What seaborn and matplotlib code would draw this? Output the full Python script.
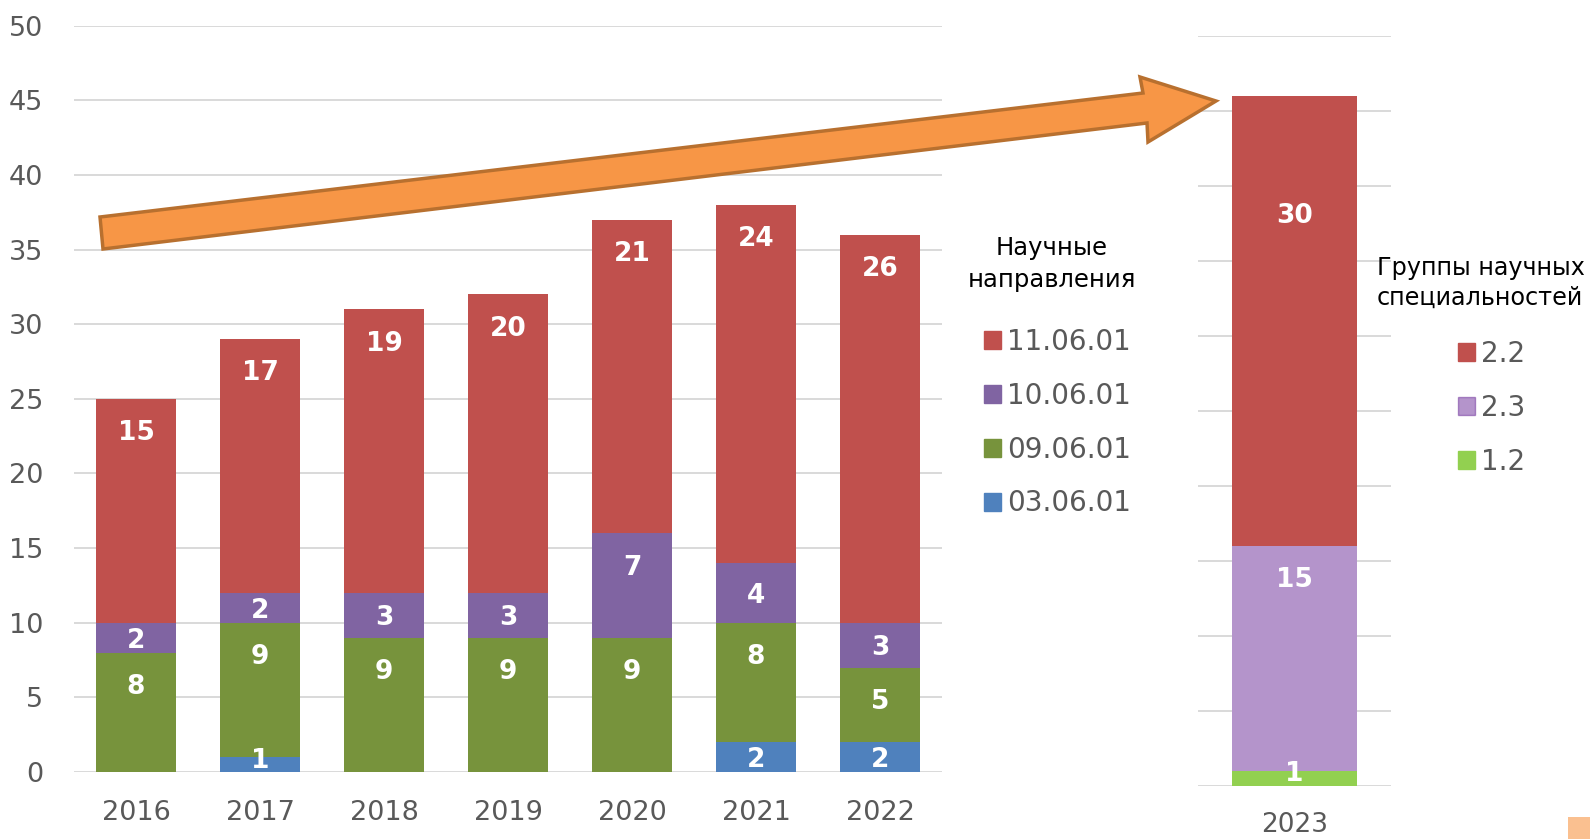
import numpy as np
import pandas as pd
import matplotlib
matplotlib.use("Agg")
import matplotlib.pyplot as plt
from matplotlib.patches import Patch, Polygon, Rectangle
import seaborn as sns

# ==============================
# Data
# ==============================
years = ["2016", "2017", "2018", "2019", "2020", "2021", "2022"]
s_030601 = [0, 1, 0, 0, 0, 2, 2]
s_090601 = [8, 9, 9, 9, 9, 8, 5]
s_100601 = [2, 2, 3, 3, 7, 4, 3]
s_110601 = [15, 17, 19, 20, 21, 24, 26]
left_names = ["11.06.01", "10.06.01", "09.06.01", "03.06.01"]

year_2023 = ["2023"]
g_12 = [1]
g_23 = [15]
g_22 = [30]
right_names = ["2.2", "2.3", "1.2"]

# colours
RED, PURPLE, GREEN, BLUE = "#C0504D", "#8064A2", "#77933C", "#4F81BD"
RED2, PURPLE2, GREEN2 = "#C0504D", "#6A2A98", "#92D050"
GRID = "#D9D9D9"
TXT = "#595959"

sns.set_theme(style="white")
plt.rcParams["font.family"] = ["DejaVu Sans"]

fig = plt.figure(figsize=(15.9, 8.39), dpi=100)
W, H = 1590, 839

def fx(px):
    return px / W

def fy(py):
    return 1 - py / H

# ==============================
# Left chart: 2016-2022 stacked
# ==============================
ax = fig.add_axes([fx(74), fy(772), fx(942) - fx(74), fy(25.7) - fy(772)])

df = pd.DataFrame({"year": years, "b": s_030601, "g": s_090601,
                   "p": s_100601, "r": s_110601})
df["c_b"] = df["b"]
df["c_g"] = df["c_b"] + df["g"]
df["c_p"] = df["c_g"] + df["p"]
df["c_r"] = df["c_p"] + df["r"]

for col, color in [("c_r", RED), ("c_p", PURPLE), ("c_g", GREEN), ("c_b", BLUE)]:
    sns.barplot(data=df, x="year", y=col, order=years, color=color,
                saturation=1, width=0.645, linewidth=0, ax=ax, zorder=3)

ax.set_ylim(0, 50)
ax.set_xlim(-0.5, len(years) - 0.5)
ax.set_yticks(np.arange(0, 51, 5))
ax.yaxis.grid(True, color=GRID, linewidth=1.4, zorder=0)
ax.set_axisbelow(True)
for sp in ax.spines.values():
    sp.set_visible(False)
ax.set_xlabel("")
ax.set_ylabel("")
ax.tick_params(axis="y", length=0, pad=22, labelsize=19.5, labelcolor=TXT)
ax.tick_params(axis="x", length=0, pad=20, labelsize=19.5, labelcolor=TXT)

# data labels ("inside end" style)
OFF = 2.3
for i in range(len(years)):
    bottom = 0
    for col in ["b", "g", "p", "r"]:
        v = df[col].iloc[i]
        if v > 0:
            top = bottom + v
            ly = max(top - OFF, bottom + v * 0.75 if v < 2 else (bottom + top) / 2 - 0.2)
            ax.text(i, ly, str(v), ha="center", va="center", color="white",
                    fontsize=19, fontweight="bold", zorder=5)
        bottom += v

# ==============================
# Right chart: 2023
# ==============================
ax2 = fig.add_axes([fx(1198), fy(785.7), fx(1391) - fx(1198), fy(35.7) - fy(785.7)])
df2 = pd.DataFrame({"year": year_2023, "g": g_12, "p": g_23, "r": g_22})
df2["c_g"] = df2["g"]
df2["c_p"] = df2["c_g"] + df2["p"]
df2["c_r"] = df2["c_p"] + df2["r"]

sns.barplot(data=df2, x="year", y="c_r", color=RED2, saturation=1,
            width=0.65, linewidth=0, ax=ax2, zorder=3)
sns.barplot(data=df2, x="year", y="c_p", color="white", saturation=1,
            width=0.65, linewidth=0, ax=ax2, zorder=3)
sns.barplot(data=df2, x="year", y="c_p", color=PURPLE2, saturation=1,
            width=0.65, linewidth=0, alpha=0.5, ax=ax2, zorder=4)
sns.barplot(data=df2, x="year", y="c_g", color=GREEN2, saturation=1,
            width=0.65, linewidth=0, ax=ax2, zorder=5)

ax2.set_ylim(0, 50)
ax2.set_xlim(-0.5, 0.5)
ax2.set_yticks(np.arange(0, 51, 5))
ax2.yaxis.grid(True, color=GRID, linewidth=1.4)
ax2.set_axisbelow(True)
# gridlines show through the translucent purple segment
for gl in ax2.get_ygridlines():
    gl.set_zorder(3.5)
for sp in ax2.spines.values():
    sp.set_visible(False)
ax2.set_xlabel("")
ax2.set_ylabel("")
ax2.set_yticklabels([])
ax2.tick_params(axis="y", length=0)
ax2.tick_params(axis="x", length=0, pad=19, labelsize=19, labelcolor=TXT)

label_y_2023 = [0.8, 13.7, 38.0]
for v, ly in zip([g_12[0], g_23[0], g_22[0]], label_y_2023):
    ax2.text(0, ly, str(v), ha="center", va="center", color="white",
             fontsize=19, fontweight="bold", zorder=6)

# ==============================
# Legends
# ==============================
fig.text(fx(1052), fy(264), "Научные\nнаправления", ha="center", va="center",
         fontsize=17.5, color="black", linespacing=1.4)
h_left = [Patch(color=c) for c in [RED, PURPLE, GREEN, BLUE]]
fig.legend(h_left, left_names, loc="upper left",
           bbox_to_anchor=(fx(984), fy(328)), frameon=False, fontsize=20,
           labelcolor=TXT, handlelength=0.62, handleheight=0.62,
           handletextpad=0.22, labelspacing=0.93, borderpad=0, borderaxespad=0)

fig.text(fx(1377), fy(283), "Группы научных\nспециальностей", ha="left", va="center",
         fontsize=17.2, color="black", linespacing=1.3)
h_right = [Patch(color=RED2), Patch(color=PURPLE2, alpha=0.5), Patch(color=GREEN2)]
fig.legend(h_right, right_names, loc="upper left",
           bbox_to_anchor=(fx(1458), fy(340)), frameon=False, fontsize=20,
           labelcolor=TXT, handlelength=0.62, handleheight=0.62,
           handletextpad=0.22, labelspacing=0.93, borderpad=0, borderaxespad=0)

# ==============================
# Orange arrow + corner square
# ==============================
arrow_px = [(100, 217), (1143, 93), (1140, 77), (1216, 101),
            (1148, 142), (1147, 123), (103, 249)]
arrow = Polygon([(fx(x), fy(y)) for x, y in arrow_px], closed=True,
                transform=fig.transFigure, facecolor="#F79646",
                edgecolor="#B8702F", linewidth=2.5, zorder=10)
fig.add_artist(arrow)

fig.add_artist(Rectangle((fx(1568), 0), fx(22), fy(817), transform=fig.transFigure,
                         facecolor="#FAC090", edgecolor="none"))

fig.savefig("out.png", dpi=100)
